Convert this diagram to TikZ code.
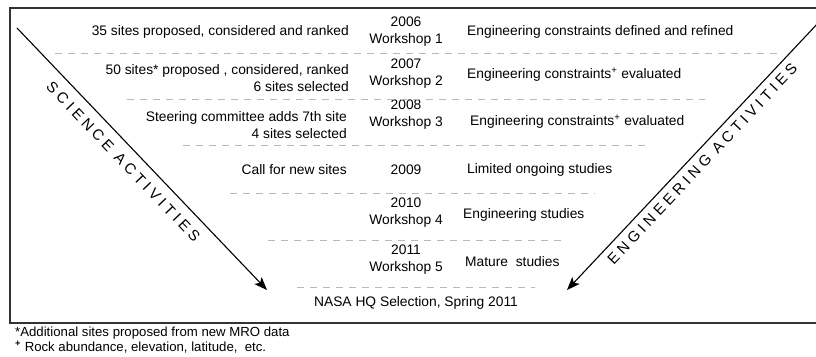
\documentclass[tikz,border=0pt]{standalone}
\usepackage{fontspec}
\setmainfont{Liberation Sans}
\usetikzlibrary{arrows.meta}

\begin{document}
\begin{tikzpicture}[x=1pt,y=-1pt,
  every node/.style={font=\fontsize{13.8}{17}\selectfont, inner sep=0pt},
  sci/.style={anchor=east, align=right},
  yr/.style={align=center},
  eng/.style={anchor=west, align=left},
  note/.style={anchor=west, font=\fontsize{13.2}{15}\selectfont},
  sep/.style={draw=gray!55, dash pattern=on 7pt off 6pt, line width=0.9pt},
  act/.style={font=\fontsize{15}{17}\selectfont\addfontfeature{LetterSpace=26}, sloped},
  flow/.style={line width=1.1pt, -{Stealth[length=13pt,width=10pt,inset=3pt]}}]
\useasboundingbox (0,0) rectangle (816,356);
\draw[gray!40!black, line width=1.5pt] (820,8) -| (10,323) -- (820,323);

\node[sci] (s1) at (349,32) {35 sites proposed, considered and ranked};
\node[sci] (s2) at (349,78.5) {50 sites* proposed , considered, ranked\\6 sites selected};
\node[sci] (s3) at (347,125) {Steering committee adds 7th site\\4 sites selected};
\node[sci] (s4) at (347,170) {Call for new sites};

\node[yr] (y1) at (406,31.5) {2006\\Workshop 1};
\node[yr] (y2) at (406,73.5) {2007\\Workshop 2};
\node[yr] (y3) at (406,115) {2008\\Workshop 3};
\node[yr] (y4) at (406,170) {2009};
\node[yr] (y5) at (406,213) {2010\\Workshop 4};
\node[yr] (y6) at (406,260) {2011\\Workshop 5};
\node[yr] (nasa) at (416,303) {NASA HQ Selection, Spring 2011};

\node[eng] (e1) at (467,32) {Engineering constraints defined and refined};
\node[eng] (e2) at (467,75) {Engineering constraints\textsuperscript{+} evaluated};
\node[eng] (e3) at (470,122) {Engineering constraints\textsuperscript{+} evaluated};
\node[eng] (e4) at (467,170) {Limited ongoing studies};
\node[eng] (e5) at (463,215) {Engineering studies};
\node[eng] (e6) at (465,262) {Mature\ \ studies};

\foreach \y/\a/\b in {53/55/777, 99/127/705, 145/183/647, 193/230/595, 240/268/563, 287/297/535}
  \draw[sep] (\a,\y) -- (\b,\y);

\coordinate (sci0) at (17,28);
\coordinate (sci1) at (267,290);
\coordinate (eng0) at (820,21);
\coordinate (eng1) at (567,290);
\draw[flow] (sci0) -- (sci1) node[act, below=9.5pt, pos=0.47] (scilab) {SCIENCE ACTIVITIES};
\draw[flow] (eng0) -- (eng1);
\path (eng1) -- (eng0) node[act, below=6.5pt, pos=0.5] (englab) {ENGINEERING ACTIVITIES};

\node[note] (fn1) at (15,333) {*Additional sites proposed from new MRO data};
\node[note] (fn2) at (15,347) {\textsuperscript{\textbf{+}} Rock abundance, elevation, latitude,\ \ etc.};
\end{tikzpicture}
\end{document}
